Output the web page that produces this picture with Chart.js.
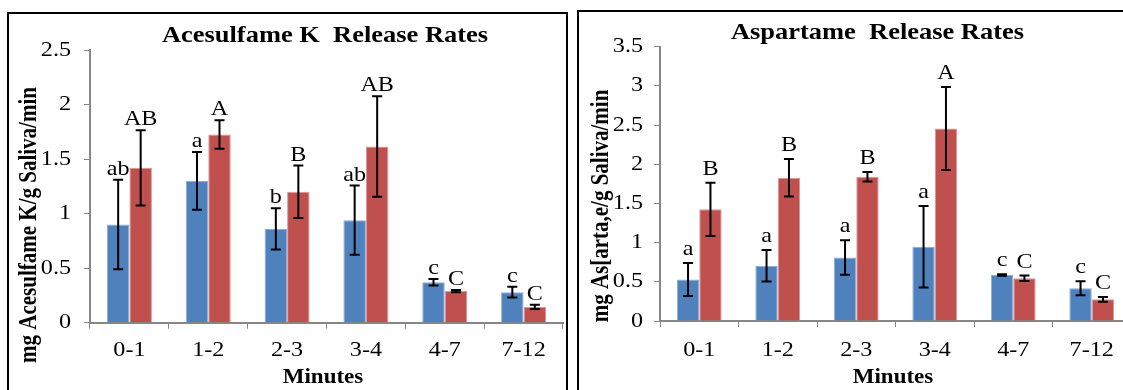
<!DOCTYPE html>
<html>
<head>
<meta charset="utf-8">
<script src="https://cdn.jsdelivr.net/npm/chart.js@4"></script>
<style>
html,body{margin:0;padding:0;background:#fff;overflow:hidden;width:1123px;height:390px;}
.wrap{position:absolute;top:0;}
.panel{position:absolute;border:2px solid #000;box-sizing:border-box;}
</style>
</head>
<body>
<div class="panel" style="left:7px;top:12px;width:561px;height:400px;"></div>
<div class="panel" style="left:577px;top:10px;width:600px;height:400px;"></div>
<div class="wrap" style="left:0;width:572px;height:390px;"><canvas id="c1" width="572" height="390"></canvas></div>
<div class="wrap" style="left:572px;width:572px;height:390px;"><canvas id="c2" width="572" height="390"></canvas></div>
<script>
const categories = ['0-1', '1-2', '2-3', '3-4', '4-7', '7-12'];

const aceBlue    = [0.90, 1.30, 0.86, 0.94, 0.37, 0.28];
const aceBlueErr = [0.41, 0.265, 0.19, 0.317, 0.03, 0.05];
const aceRed     = [1.42, 1.725, 1.20, 1.615, 0.29, 0.145];
const aceRedErr  = [0.345, 0.13, 0.24, 0.46, 0.01, 0.02];
const aceBlueLetters = ['ab', 'a', 'b', 'ab', 'c', 'c'];
const aceRedLetters  = ['AB', 'A', 'B', 'AB', 'C', 'C'];

const aspBlue    = [0.53, 0.705, 0.81, 0.948, 0.587, 0.417];
const aspBlueErr = [0.21, 0.20, 0.22, 0.52, 0.01, 0.09];
const aspRed     = [1.425, 1.828, 1.84, 2.457, 0.545, 0.277];
const aspRedErr  = [0.34, 0.24, 0.06, 0.53, 0.035, 0.03];
const aspBlueLetters = ['a', 'a', 'a', 'a', 'c', 'c'];
const aspRedLetters  = ['B', 'B', 'B', 'A', 'C', 'C'];

const aceYTicks = [0, 0.5, 1, 1.5, 2, 2.5];
const aspYTicks = [0, 0.5, 1, 1.5, 2, 2.5, 3, 3.5];

const titles = ['Acesulfame K  Release Rates', 'Aspartame  Release Rates'];
const yTitles = ['mg Acesulfame K/g Saliva/min', 'mg As[arta,e/g Saliva/min'];
const xTitle = 'Minutes';

const SERIF = '"Liberation Serif", "Times New Roman", serif';
const BLUE = '#4F81BD', RED = '#C0504D';
const SX = 1.15; // horizontal stretch of the source lettering

function txt(ctx, s, x, y, font, align, baseline, rot) {
  ctx.save();
  ctx.fillStyle = '#000';
  ctx.font = font;
  ctx.textAlign = align;
  ctx.textBaseline = baseline;
  ctx.translate(x, y);
  ctx.scale(SX, 1);
  if (rot) ctx.rotate(rot);
  ctx.fillText(s, 0, 0);
  ctx.restore();
}

const errorPlugin = {
  id: 'errbars',
  afterDatasetsDraw(chart, args, opts) {
    const ctx = chart.ctx;
    const ys = chart.scales.y;
    chart.data.datasets.forEach((ds, di) => {
      const meta = chart.getDatasetMeta(di);
      meta.data.forEach((el, i) => {
        const v = ds.data[i], e = ds.errors[i];
        const x = el.x;
        const yt = ys.getPixelForValue(v + e);
        const yb = ys.getPixelForValue(v - e);
        ctx.save();
        ctx.strokeStyle = '#000';
        ctx.lineWidth = 2;
        ctx.beginPath();
        ctx.moveTo(x, yt); ctx.lineTo(x, yb);
        ctx.moveTo(x - 5, yt); ctx.lineTo(x + 5, yt);
        ctx.moveTo(x - 5, yb); ctx.lineTo(x + 5, yb);
        ctx.stroke();
        ctx.restore();
        txt(ctx, ds.letters[i], x, yt - opts.letterGap, '21px ' + SERIF, 'center', 'alphabetic');
      });
    });
  }
};

const textPlugin = {
  id: 'texts',
  afterDraw(chart, args, o) {
    const ctx = chart.ctx;
    const xs = chart.scales.x, ys = chart.scales.y;
    xs.ticks.forEach((t, i) => {
      txt(ctx, chart.data.labels[i], xs.getPixelForTick(i), o.xLabY, '21px ' + SERIF, 'center', 'middle');
    });
    ys.ticks.forEach((t) => {
      txt(ctx, String(t.value), o.yLabX, ys.getPixelForValue(t.value), '21px ' + SERIF, 'right', 'middle');
    });
    txt(ctx, o.title, o.tx, o.ty, 'bold 23px ' + SERIF, 'center', 'middle');
    txt(ctx, o.xTitle, o.xx, o.xy, 'bold 20px ' + SERIF, 'center', 'middle');
    txt(ctx, o.yTitle, o.yx, o.yy, 'bold 21px ' + SERIF, 'center', 'middle', -Math.PI / 2);
  }
};

function makeChart(id, b, bErr, bLet, r, rErr, rLet, yTicks, geom, texts) {
  const ymax = yTicks[yTicks.length - 1];
  return new Chart(document.getElementById(id), {
    type: 'bar',
    data: {
      labels: categories,
      datasets: [
        { data: b, errors: bErr, letters: bLet, backgroundColor: BLUE, borderColor: '#8EAADB', borderWidth: 1, categoryPercentage: 0.571, barPercentage: 1 },
        { data: r, errors: rErr, letters: rLet, backgroundColor: RED, borderColor: '#D99694', borderWidth: 1, categoryPercentage: 0.571, barPercentage: 1 }
      ]
    },
    options: {
      responsive: false,
      animation: false,
      layout: { padding: { left: 0, right: geom.padRight, top: geom.padTop, bottom: 0 } },
      plugins: {
        legend: { display: false },
        tooltip: { enabled: false },
        errbars: { letterGap: geom.letterGap },
        texts: texts
      },
      scales: {
        x: {
          offset: true,
          grid: { display: true, drawOnChartArea: false, drawTicks: true, tickLength: 6, color: '#868686', offset: true },
          border: { display: true, color: '#868686', width: 2 },
          ticks: { color: 'rgba(0,0,0,0)', font: { family: SERIF, size: 21 }, padding: 9, maxRotation: 0 },
          afterFit(s) { s.height = geom.xH; }
        },
        y: {
          min: 0, max: ymax,
          afterBuildTicks(s) { s.ticks = yTicks.map(v => ({ value: v })); },
          grid: { display: true, drawOnChartArea: false, drawTicks: true, tickLength: 6, color: '#868686' },
          border: { display: true, color: '#868686', width: 2 },
          ticks: { color: 'rgba(0,0,0,0)', font: { family: SERIF, size: 21 }, padding: 14 },
          afterFit(s) { s.width = geom.yW; }
        }
      }
    },
    plugins: [errorPlugin, textPlugin]
  });
}

makeChart('c1', aceBlue, aceBlueErr, aceBlueLetters, aceRed, aceRedErr, aceRedLetters, aceYTicks,
  { padRight: 9, padTop: 50, xH: 67.3, yW: 90, letterGap: 5 },
  { title: titles[0], tx: 325, ty: 36, xTitle: xTitle, xx: 323, xy: 378, yTitle: yTitles[0], yx: 30, yy: 225, xLabY: 350, yLabX: 71 });

makeChart('c2', aspBlue, aspBlueErr, aspBlueLetters, aspRed, aspRedErr, aspRedLetters, aspYTicks,
  { padRight: 13, padTop: 46.7, xH: 69, yW: 88, letterGap: 8 },
  { title: titles[1], tx: 305.5, ty: 33, xTitle: xTitle, xx: 321, xy: 378, yTitle: yTitles[1], yx: 30, yy: 206, xLabY: 350, yLabX: 71 });
</script>
</body>
</html>
